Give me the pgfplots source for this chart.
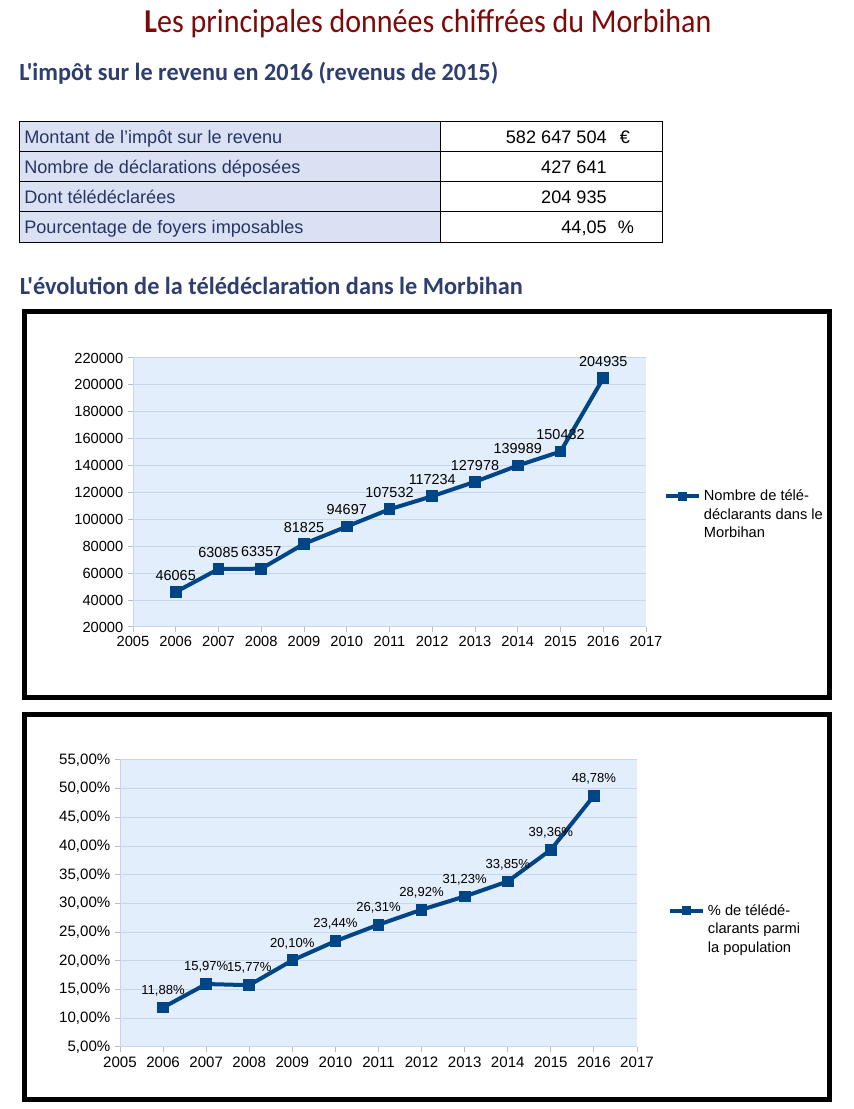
\documentclass[border=0pt]{standalone}
\usepackage{fontspec}
\setmainfont{Liberation Sans}
\newfontfamily\headfont{Carlito}
\usepackage{graphicx}
\usepackage{pgfplots}
\pgfplotsset{compat=1.18}

\definecolor{titlered}{RGB}{125,10,10}
\definecolor{headblue}{RGB}{46,62,110}
\definecolor{tablefill}{RGB}{217,225,243}
\definecolor{tabletext}{RGB}{40,52,100}
\definecolor{series}{RGB}{0,69,134}
\definecolor{plotbg}{RGB}{226,238,251}
\definecolor{gridcol}{RGB}{200,214,232}
\definecolor{tickcol}{RGB}{180,190,205}

\pgfplotsset{
  chart/.style={
    scale only axis, anchor=south west,
    xmin=2005, xmax=2017, xtick={2005,2006,...,2017},
    /pgf/number format/assume math mode=true,
    xticklabel style={/pgf/number format/1000 sep={}},
    axis background/.style={fill=plotbg},
    axis x line*=bottom, axis y line*=left,
    axis line style={draw=gridcol, line width=0.75pt},
    ymajorgrids, grid style={draw=gridcol, line width=0.75pt},
    tick align=outside, major tick length=3.75pt,
    tick style={draw=tickcol, line width=0.75pt},
    clip=false,
    legend style={draw=none, fill=none, anchor=north west, inner sep=0pt,
      font=\fontsize{11}{13.9}\selectfont},
    legend image code/.code={\draw[mark repeat=2,mark phase=2,##1,mark size=3pt]
      plot coordinates {(0pt,0pt)(12.4pt,0pt)(24.75pt,0pt)};},
    every node near coord/.append style={text=black, yshift=5pt},
  },
  serie/.style={color=series, line width=3pt, mark=square*, mark size=4pt,
    mark options={line width=0.75pt, fill=series}, nodes near coords,
    point meta=explicit symbolic},
}

\begin{document}
\begin{tikzpicture}
\path[use as bounding box] (0pt,0pt) rectangle (639.75pt,831.75pt);
\begin{scope}[x=0.75pt,y=0.75pt]
  % titres
  \node[anchor=base, inner sep=0pt, text=titlered] at (428,1076)
    {\resizebox{425.25pt}{\height}{\fontsize{25}{28}\headfont\textbf{L}es principales données chiffrées du Morbihan}};
  \node[anchor=base west, inner sep=0pt, text=headblue] at (19,1028)
    {\resizebox{359.25pt}{\height}{\fontsize{18.5}{22}\headfont\bfseries L'impôt sur le revenu en 2016 (revenus de 2015)}};
  \node[anchor=base west, inner sep=0pt, text=headblue] at (19.5,814)
    {\resizebox{377.25pt}{\height}{\fontsize{18.5}{22}\headfont\bfseries L'évolution de la télédéclaration dans le Morbihan}};

  % tableau
  \fill[tablefill] (19,866.7) rectangle (440,987.3);
  \draw[line width=0.75pt] (19,866.7) rectangle (662,987.3);
  \draw[line width=0.75pt] (440,866.7) -- (440,987.3);
  \foreach \yy in {957.3,927.3,897.3} \draw[line width=0.75pt] (19,\yy) -- (662,\yy);
  \begin{scope}[every node/.style={inner sep=0pt, font=\fontsize{13.6}{15}\selectfont}]
    \node[anchor=base west, text=tabletext] at (24,965.7) {Montant de l'impôt sur le revenu};
    \node[anchor=base west, text=tabletext] at (24,935.7) {Nombre de déclarations déposées};
    \node[anchor=base west, text=tabletext] at (24,905.7) {Dont télédéclarées};
    \node[anchor=base west, text=tabletext] at (24,875.7) {Pourcentage de foyers imposables};
    \node[anchor=base east] at (607,965.7) {582 647 504};
    \node[anchor=base] at (625,965.7) {€};
    \node[anchor=base east] at (607,935.7) {427 641};
    \node[anchor=base east] at (607,905.7) {204 935};
    \node[anchor=base east] at (607,875.7) {44,05};
    \node[anchor=base] at (626,875.7) {\%};
  \end{scope}

  % cadres
  \draw[line width=3.75pt] (24.5,411) rectangle (829,797.5);
  \draw[line width=3.75pt] (24.5,9) rectangle (829,394.5);
\end{scope}

\begin{axis}[chart,
  at={(99.75pt,361.5pt)}, width=384.75pt, height=201.75pt,
  ymin=20000, ymax=220000, ytick={20000,40000,...,220000},
  scaled y ticks=false,
  yticklabel style={/pgf/number format/1000 sep={}, /pgf/number format/fixed},
  ticklabel style={font=\fontsize{11}{13}\selectfont},
  every node near coord/.append style={font=\fontsize{10.8}{12}\selectfont},
  legend style={at={(1.035,0.52)}},
]
\addplot[serie] coordinates {
  (2006,46065) [46065]
  (2007,63085) [63085]
  (2008,63357) [63357]
  (2009,81825) [81825]
  (2010,94697) [94697]
  (2011,107532) [107532]
  (2012,117234) [117234]
  (2013,127978) [127978]
  (2014,139989) [139989]
  (2015,150432) [150432]
  (2016,204935) [204935]
};
\addlegendentry{\parbox[t]{110pt}{\raggedright Nombre de télé-\\déclarants dans le\\Morbihan}}
\end{axis}

\begin{axis}[chart,
  at={(90pt,46.5pt)}, width=387.75pt, height=215.25pt,
  ymin=5, ymax=55, ytick={5,10,...,55},
  yticklabel={\pgfmathprintnumber[fixed,fixed zerofill,precision=2,use comma]{\tick}\%},
  ticklabel style={font=\fontsize{11.3}{13}\selectfont},
  every node near coord/.append style={font=\fontsize{9.8}{11}\selectfont},
  legend style={at={(1.06,0.507)}},
]
\addplot[serie] coordinates {
  (2006,11.88) [11,88\%]
  (2007,15.97) [15,97\%]
  (2008,15.77) [15,77\%]
  (2009,20.10) [20,10\%]
  (2010,23.44) [23,44\%]
  (2011,26.31) [26,31\%]
  (2012,28.92) [28,92\%]
  (2013,31.23) [31,23\%]
  (2014,33.85) [33,85\%]
  (2015,39.36) [39,36\%]
  (2016,48.78) [48,78\%]
};
\addlegendentry{\parbox[t]{110pt}{\raggedright \% de télédé-\\clarants parmi\\la population}}
\end{axis}
\end{tikzpicture}
\end{document}
